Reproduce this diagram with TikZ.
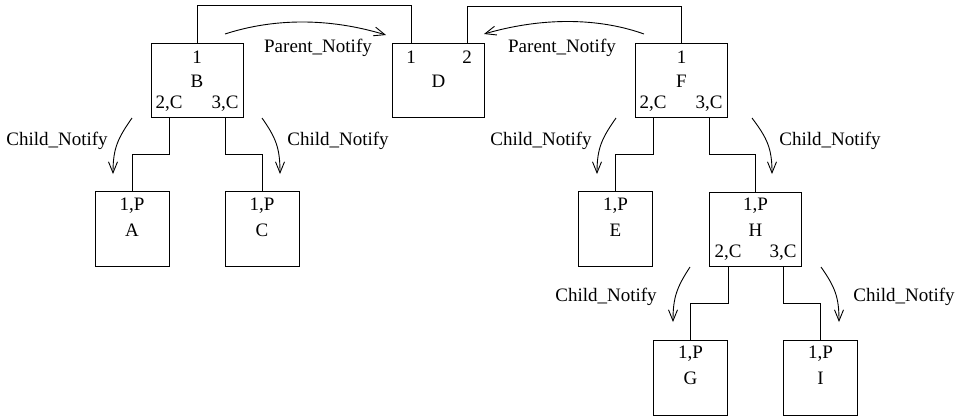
\documentclass[tikz,border=0pt]{standalone}
\usepackage{fontspec}
\setmainfont{Liberation Serif}
\usetikzlibrary{arrows.meta}
\begin{document}
\begin{tikzpicture}[x=1pt,y=-1pt,
  every node/.style={font=\fontsize{19}{21}\selectfont, inner sep=0pt},
  bigbox/.style={draw, line width=1pt, minimum width=92pt, minimum height=74pt},
  smallbox/.style={draw, line width=1pt, minimum width=74pt, minimum height=75pt},
  wire/.style={line width=1pt},
  notify/.style={line width=0.9pt, -{Straight Barb[length=11pt,width=9pt,line width=0.9pt]}},
  lbl/.style={anchor=center}]
\useasboundingbox (0,0) rectangle (961,416);

% boxes
\node[bigbox] (B) at (197,80) {};
\node[bigbox] (D) at (438.5,80) {};
\node[bigbox] (F) at (681.5,80) {};
\node[smallbox] (A) at (132,228.5) {};
\node[smallbox] (C) at (262,228.5) {};
\node[smallbox] (E) at (615.5,229) {};
\node[bigbox] (H) at (755.5,229) {};
\node[smallbox] (G) at (690.5,377.5) {};
\node[smallbox] (I) at (820.5,377.5) {};

% box texts
\node[lbl] (B1) at (197,57) {1};
\node[lbl] (Bn) at (197,81) {B};
\node[lbl] (B2) at (169,104) {2,C};
\node[lbl] (B3) at (225,104) {3,C};
\node[lbl] (D1) at (411,57) {1};
\node[lbl] (D2) at (467,57) {2};
\node[lbl] (Dn) at (438.5,81) {D};
\node[lbl] (F1) at (681.5,57) {1};
\node[lbl] (Fn) at (681.5,81) {F};
\node[lbl] (F2) at (653,104) {2,C};
\node[lbl] (F3) at (709,104) {3,C};
\node[lbl] (H1) at (755.5,206) {1,P};
\node[lbl] (Hn) at (755.5,230) {H};
\node[lbl] (H2) at (728,253) {2,C};
\node[lbl] (H3) at (783,253) {3,C};
\node[lbl] (A1) at (132,206) {1,P};
\node[lbl] (An) at (132,230) {A};
\node[lbl] (C1) at (262,206) {1,P};
\node[lbl] (Cn) at (262,230) {C};
\node[lbl] (E1) at (615.5,206) {1,P};
\node[lbl] (En) at (615.5,230) {E};
\node[lbl] (G1) at (690.5,354) {1,P};
\node[lbl] (Gn) at (690.5,378) {G};
\node[lbl] (I1) at (820.5,354) {1,P};
\node[lbl] (In) at (820.5,378) {I};

% port points on box edges
\coordinate (Dp1) at (411,43);
\coordinate (Dp2) at (467,43);
\coordinate (Bp2) at (169,117);
\coordinate (Bp3) at (225,117);
\coordinate (Fp2) at (653,117);
\coordinate (Fp3) at (709,117);
\coordinate (Hp2) at (728,266);
\coordinate (Hp3) at (783,266);

% wiring
\draw[wire] (B.north) -- ++(0,-37) -| (Dp1);
\draw[wire] (Dp2) -- ++(0,-37) -| (F.north);
\draw[wire] (Bp2) -- ++(0,37) -| (A.north);
\draw[wire] (Bp3) -- ++(0,37) -| (C.north);
\draw[wire] (Fp2) -- ++(0,37) -| (E.north);
\draw[wire] (Fp3) -- ++(0,37) -| (H.north);
\draw[wire] (Hp2) -- ++(0,37) -| (G.north);
\draw[wire] (Hp3) -- ++(0,37) -| (I.north);

% notification arrows
\coordinate (pn1s) at (225,34);
\coordinate (pn1e) at (386,35);
\coordinate (pn2s) at (644,34);
\coordinate (pn2e) at (484,34);
\draw[notify] (pn1s) .. controls (265,21) and (320,15) .. (pn1e);
\draw[notify] (pn2s) .. controls (605,20) and (550,15) .. (pn2e);
\node (pl1) at (318,48) {Parent\_Notify};
\node (pl2) at (562,48) {Parent\_Notify};

\coordinate (c1s) at (132,118);
\coordinate (c1e) at (113,174);
\coordinate (c2s) at (262,118);
\coordinate (c2e) at (280,174);
\coordinate (c3s) at (616,118);
\coordinate (c3e) at (597,174);
\coordinate (c4s) at (752,118);
\coordinate (c4e) at (772,174);
\coordinate (c5s) at (690,267);
\coordinate (c5e) at (673,322);
\coordinate (c6s) at (821,267);
\coordinate (c6e) at (839,322);
\draw[notify] (c1s) .. controls (118,138) and (113,148) .. (c1e);
\draw[notify] (c2s) .. controls (276,138) and (280,148) .. (c2e);
\draw[notify] (c3s) .. controls (602,138) and (597,148) .. (c3e);
\draw[notify] (c4s) .. controls (767,138) and (772,148) .. (c4e);
\draw[notify] (c5s) .. controls (677,287) and (673,297) .. (c5e);
\draw[notify] (c6s) .. controls (835,287) and (839,297) .. (c6e);
\node (cl1) at (57,141) {Child\_Notify};
\node (cl2) at (338,141) {Child\_Notify};
\node (cl3) at (541,141) {Child\_Notify};
\node (cl4) at (830,141) {Child\_Notify};
\node (cl5) at (606,297) {Child\_Notify};
\node (cl6) at (904,297) {Child\_Notify};
\end{tikzpicture}
\end{document}
